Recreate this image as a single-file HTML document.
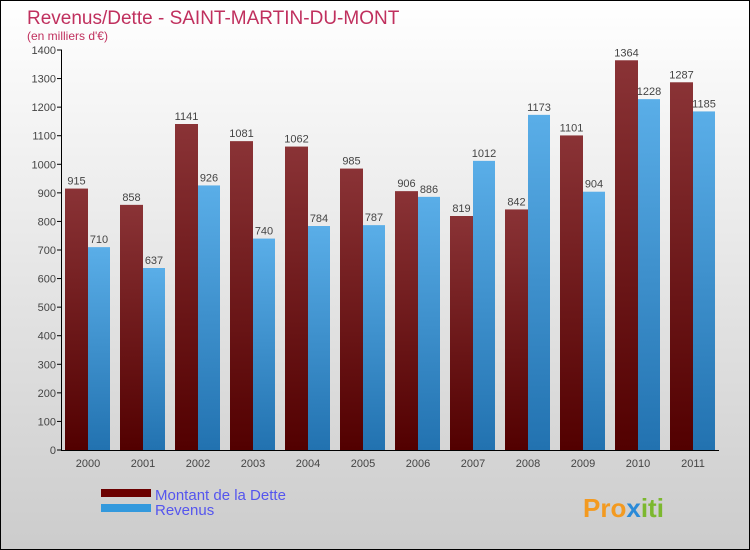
<!DOCTYPE html>
<html><head><meta charset="utf-8"><style>
body{margin:0}
#c{position:relative;width:748px;height:548px;border:1px solid #000;background:linear-gradient(#fff,#ccc);font-family:"Liberation Sans",sans-serif;overflow:hidden}
</style></head><body>
<div id="c">
<svg width="748" height="548">
<defs>
<linearGradient id="gd" x1="0" y1="0" x2="0" y2="1"><stop offset="0" stop-color="#8a3336"/><stop offset="1" stop-color="#520000"/></linearGradient>
<linearGradient id="gr" x1="0" y1="0" x2="0" y2="1"><stop offset="0" stop-color="#5aaee8"/><stop offset="1" stop-color="#2272b0"/></linearGradient>
</defs>
<text x="26" y="23" font-size="19" fill="#c0305e">Revenus/Dette - SAINT-MARTIN-DU-MONT</text>
<text x="26" y="39" font-size="12" fill="#c0305e">(en milliers d'€)</text>
<g id="g"></g>
<rect x="100" y="488" width="50" height="8" fill="#6b0000"/>
<rect x="100" y="503" width="50" height="8" fill="#3399dd"/>
<text x="154" y="499" font-size="15" fill="#5555ee">Montant de la Dette</text>
<text x="154" y="514" font-size="15" fill="#5555ee">Revenus</text>
<text x="582" y="516" font-size="26" font-weight="bold" fill="#f39a20">Pro<tspan fill="#2a8ad8">x</tspan><tspan fill="#7cb82f">iti</tspan></text>
</svg></div>
<script>
const years=["2000","2001","2002","2003","2004","2005","2006","2007","2008","2009","2010","2011"];
const dette=[915,858,1141,1081,1062,985,906,819,842,1101,1364,1287];
const revenus=[710,637,926,740,784,787,886,1012,1173,904,1228,1185];
const ticks=[0,100,200,300,400,500,600,700,800,900,1000,1100,1200,1300,1400];
const NS="http://www.w3.org/2000/svg";
const g=document.getElementById('g');
const y0=449,yTop=49,vmax=1400;
const Y=v=>y0-(v/vmax)*(y0-yTop);
const X=i=>87+55*i;
function mk(t,a){const e=document.createElementNS(NS,t);for(const k in a)e.setAttribute(k,a[k]);g.appendChild(e);return e;}
ticks.forEach(t=>{
 const l=mk('line',{x1:56,x2:61,y1:Y(t),y2:Y(t),stroke:'#000'});
 
 
 const tx=mk('text',{x:55,y:Y(t)+4,'font-size':11,'text-anchor':'end',fill:'#444'});
 tx.textContent=t;
 
 
});
years.forEach((yr,i)=>{
 const c=X(i);
 const b1=mk('rect',{x:c-23,y:Y(dette[i]),width:23,height:y0-Y(dette[i]),fill:'url(#gd)'});
 
 
 const b2=mk('rect',{x:c,y:Y(revenus[i]),width:22,height:y0-Y(revenus[i]),fill:'url(#gr)'});
 
 
 const t1=mk('text',{x:c-11.5,y:Y(dette[i])-4,'font-size':11,'text-anchor':'middle',fill:'#444'});
 t1.textContent=dette[i];
 
 
 const t2=mk('text',{x:c+11,y:Y(revenus[i])-4,'font-size':11,'text-anchor':'middle',fill:'#444'});
 t2.textContent=revenus[i];
 
 
 const xl=mk('text',{x:c,y:466,'font-size':11,'text-anchor':'middle',fill:'#444'});
 xl.textContent=yr;
 
 
});
const ya=mk('line',{x1:60.5,x2:60.5,y1:yTop,y2:y0+0.5,stroke:'#000'});


const xa=mk('line',{x1:60,x2:718,y1:y0+0.5,y2:y0+0.5,stroke:'#000'});


</script>
</body></html>
